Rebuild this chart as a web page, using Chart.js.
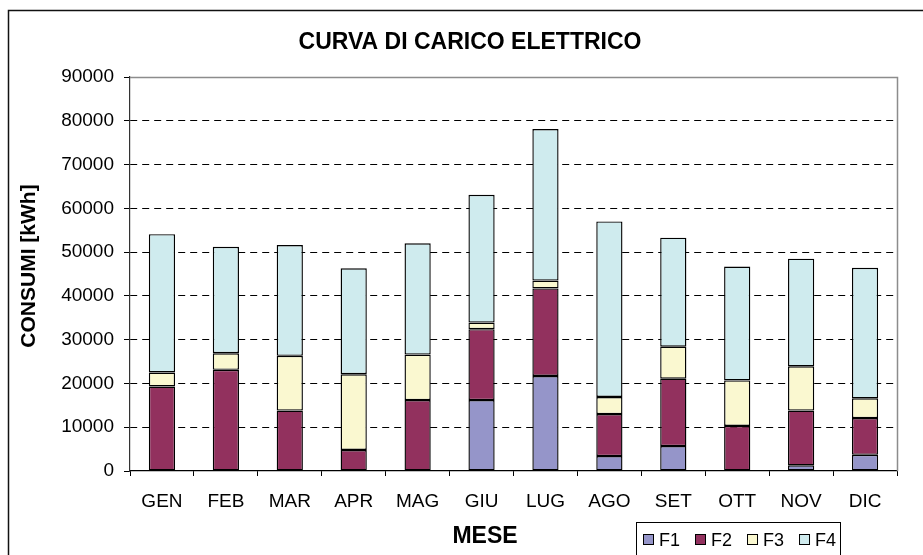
<!DOCTYPE html>
<html>
<head>
<meta charset="utf-8">
<script src="https://cdn.jsdelivr.net/npm/chart.js@4"></script>
<style>
html,body{margin:0;padding:0;background:#fff;}
#wrap{width:923px;height:555px;position:relative;}
</style>
</head>
<body>
<div id="wrap"><canvas id="c" width="923" height="555"></canvas></div>
<script>
const months = ['GEN','FEB','MAR','APR','MAG','GIU','LUG','AGO','SET','OTT','NOV','DIC'];
const f1 = [0, 0, 0, 0, 0, 16200, 21700, 3400, 5700, 0, 1300, 3700];
const f2 = [19300, 23100, 13800, 4800, 16200, 16200, 20000, 9600, 15400, 10300, 12500, 8400];
const f3 = [3200, 3800, 12500, 17300, 10400, 1500, 1800, 3900, 7300, 10400, 10100, 4500];
const f4 = [31600, 24300, 25300, 24200, 25400, 29200, 34600, 40100, 24900, 26000, 24600, 29800];
const seriesNames = ['F1','F2','F3','F4'];
const chartTitle = 'CURVA DI CARICO ELETTRICO';
const yTitle = 'CONSUMI [kWh]';
const xTitle = 'MESE';

const colors = ['#9595C9','#92315E','#FAF8D0','#CFEBEE'];
const FONT = "'Liberation Sans', Arial, sans-serif";

const frame = {
  id: 'frame',
  beforeDraw(chart) {
    const ctx = chart.ctx;
    ctx.save();
    ctx.fillStyle = '#fff';
    ctx.fillRect(0, 0, chart.width, chart.height);
    ctx.restore();
  },
  afterDraw(chart) {
    const ctx = chart.ctx;
    const a = chart.chartArea;
    ctx.save();
    // outer chart border
    ctx.strokeStyle = '#111';
    ctx.lineWidth = 1.5;
    ctx.strokeRect(8.5, 10.5, 960, 600);
    // plot area top/right border
    ctx.strokeStyle = '#8c8c8c';
    ctx.lineWidth = 1.5;
    ctx.beginPath();
    ctx.moveTo(a.left, a.top + 0.5);
    ctx.lineTo(a.right + 0.5, a.top + 0.5);
    ctx.lineTo(a.right + 0.5, a.bottom);
    ctx.stroke();
    // chart title and axis titles
    ctx.fillStyle = '#000';
    ctx.textAlign = 'center';
    ctx.textBaseline = 'middle';
    ctx.font = 'bold 23px ' + FONT;
    ctx.fillText(chartTitle, 470, 43);
    ctx.font = 'bold 23px ' + FONT;
    ctx.fillText(xTitle, 485, 537);
    ctx.save();
    ctx.translate(29, 266);
    ctx.rotate(-Math.PI / 2);
    ctx.font = 'bold 21px ' + FONT;
    ctx.fillText(yTitle, 0, 0);
    ctx.restore();
    // legend
    const lx = 636.5, ly = 522.5;
    ctx.strokeStyle = '#000';
    ctx.lineWidth = 1;
    ctx.strokeRect(lx, ly, 204, 45);
    ctx.font = '18px ' + FONT;
    ctx.textAlign = 'left';
    ctx.textBaseline = 'middle';
    let x = 643;
    const cy = 540;
    chart.data.datasets.forEach(ds => {
      ctx.fillStyle = ds.backgroundColor;
      ctx.fillRect(x + 0.5, cy - 5.5, 10, 10);
      ctx.strokeStyle = '#000';
      ctx.strokeRect(x + 0.5, cy - 5.5, 10, 10);
      ctx.fillStyle = '#000';
      ctx.fillText(ds.label, x + 16, cy + 1);
      x += 16 + ctx.measureText(ds.label).width + 15;
    });
    ctx.restore();
  }
};

new Chart(document.getElementById('c'), {
  type: 'bar',
  data: {
    labels: months,
    datasets: [f1, f2, f3, f4].map((d, i) => ({
      label: seriesNames[i],
      data: d,
      backgroundColor: colors[i],
      borderColor: '#000',
      borderWidth: 1.4,
      borderSkipped: false,
      categoryPercentage: 1.0,
      barPercentage: 0.41
    }))
  },
  options: {
    responsive: false,
    animation: false,
    devicePixelRatio: 1,
    layout: { padding: { left: 0, right: 26, top: 77, bottom: 0 } },
    plugins: {
      legend: { display: false },
      tooltip: { enabled: false },
      title: { display: false }
    },
    scales: {
      x: {
        stacked: true,
        afterFit(s) { s.height = 84; },
        border: { display: true, color: '#000', width: 1.2 },
        grid: { display: true, drawOnChartArea: false, drawTicks: true, tickLength: 5, tickColor: '#000', offset: true },
        ticks: { color: '#000', font: { family: FONT, size: 19 }, padding: 14, maxRotation: 0, autoSkip: false },
        title: { display: false }
      },
      y: {
        stacked: true,
        min: 0,
        max: 90000,
        afterFit(s) { s.width = 130; },
        border: { display: true, color: '#333', width: 1.2, dash: [7, 5] },
        grid: {
          color: ctx => (ctx.tick && (ctx.tick.value === 0 || ctx.tick.value === 90000)) ? 'rgba(0,0,0,0)' : '#000',
          lineWidth: 1,
          tickColor: '#000',
          tickLength: 6,
          tickBorderDash: []
        },
        ticks: { stepSize: 10000, color: '#000', font: { family: FONT, size: 19 }, padding: 10,
                 callback: v => String(v) },
        title: { display: false }
      }
    }
  },
  plugins: [frame]
});
</script>
</body>
</html>
